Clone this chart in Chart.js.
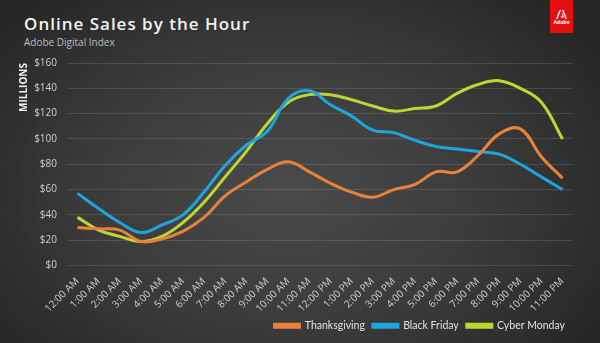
<!DOCTYPE html>
<html>
<head>
<meta charset="utf-8">
<script src="https://cdn.jsdelivr.net/npm/chart.js@4"></script>
<style>
  html, body { margin: 0; padding: 0; }
  body {
    width: 600px; height: 343px; overflow: hidden; position: relative;
    background: radial-gradient(ellipse 62% 75% at 48% 55%, #4a4a4a 0%, #3a3a3a 55%, #262626 100%);
    font-family: 'Open Sans', sans-serif;
  }
  #title {
    position: absolute; left: 24px; top: 12px;
    color: #f2f2f2; font-size: 17px; font-weight: 600; letter-spacing: 1px;
  }
  #subtitle {
    position: absolute; left: 24px; top: 35px;
    color: #bdbdbd; font-size: 10px;
  }
  #logo {
    position: absolute; left: 550px; top: 0; width: 23px; height: 33px;
    background: #e60f0f; color: #fff; text-align: center;
  }
  #logo svg { display: block; margin: 10px auto 0; }
  #logo span { display: block; font-size: 5px; font-weight: bold; line-height: 6px; }
  #wrap { position: absolute; left: 0; top: 0; width: 600px; height: 343px; }
</style>
</head>
<body>
<div id="title">Online Sales by the Hour</div>
<div id="subtitle">Adobe Digital Index</div>
<div id="logo">
  <svg width="11" height="9" viewBox="0 0 11 9">
    <polygon points="0,9 3.5,0 5,0 1.5,9" fill="#fff"/>
    <polygon points="6,0 7.5,0 11,9 9.5,9" fill="#fff"/>
    <polygon points="5.5,3.5 6.5,3.5 8,7.5 4.5,7.5 5,6.5 6.6,6.5" fill="#fff"/>
  </svg>
  <span>Adobe</span>
</div>
<div id="wrap"><canvas id="salesChart"></canvas></div>
<script>
// heures (axe x)
const hours = ['12:00 AM', '1:00 AM', '2:00 AM', '3:00 AM', '4:00 AM', '5:00 AM', '6:00 AM', '7:00 AM',
    '8:00 AM', '9:00 AM', '10:00 AM', '11:00 AM', '12:00 PM', '1:00 PM', '2:00 PM', '3:00 PM',
    '4:00 PM', '5:00 PM', '6:00 PM', '7:00 PM', '8:00 PM', '9:00 PM', '10:00 PM', '11:00 PM'];

// ventes en millions de $
const thanksgiving = [30, 29, 28, 19, 21, 27, 38, 55, 66, 76, 82, 74, 65, 58, 54, 60, 64, 74, 74, 87, 104, 108, 86, 69];
const blackFriday  = [57, 45, 34, 26, 32, 40, 58, 79, 95, 106, 132, 138, 127, 118, 107, 105, 99, 94, 92, 90, 88, 80, 70, 60];
const cyberMonday  = [38, 28, 23, 19, 23, 34, 50, 70, 90, 112, 129, 135, 135, 131, 126, 122, 124, 126, 136, 143, 146, 140, 129, 100];

const yTicks = [0, 20, 40, 60, 80, 100, 120, 140, 160];

const tickColor = '#cfcfcf';
const tickFont = { family: "'Open Sans', sans-serif", size: 10 };

function makeSeries(label, data, color) {
    return {
        label: label,
        data: data,
        borderColor: color,
        backgroundColor: color,
        borderWidth: 3,
        tension: 0.4,
        pointRadius: 0,
        fill: false
    };
}

const ctx = document.getElementById('salesChart').getContext('2d');
new Chart(ctx, {
    type: 'line',
    data: {
        labels: hours,
        datasets: [
            makeSeries('Thanksgiving', thanksgiving, '#e8823a'),
            makeSeries('Black Friday', blackFriday, '#1ea5dc'),
            makeSeries('Cyber Monday', cyberMonday, '#bdd634')
        ]
    },
    options: {
        responsive: true,
        maintainAspectRatio: false,
        animation: false,
        layout: { padding: { left: 18, right: 27, top: 63, bottom: 2 } },
        plugins: {
            legend: {
                position: 'bottom',
                align: 'end',
                labels: {
                    color: '#e0e0e0',
                    font: { family: "Lato, sans-serif", size: 10.5 },
                    boxWidth: 25,
                    boxHeight: 3,
                    padding: 8
                }
            },
            tooltip: { enabled: false }
        },
        scales: {
            x: {
                offset: true,
                grid: { display: false },
                border: { display: false },
                afterFit: function(scale) { scale.height = 47; },
                ticks: {
                    color: tickColor,
                    font: tickFont,
                    maxRotation: 45,
                    minRotation: 45,
                    autoSkip: false,
                    padding: 2
                }
            },
            y: {
                min: 0,
                max: 160,
                afterBuildTicks: function(scale) {
                    scale.ticks = yTicks.map(v => ({ value: v }));
                },
                afterFit: function(scale) { scale.width = 49; },
                grid: { color: 'rgba(255,255,255,0.12)', lineWidth: 1, drawTicks: false },
                border: { display: false },
                ticks: {
                    color: tickColor,
                    font: tickFont,
                    padding: 10,
                    callback: v => '$' + v
                },
                title: {
                    display: true,
                    text: 'MILLIONS',
                    align: 'end',
                    color: '#f0f0f0',
                    font: { family: "'Open Sans', sans-serif", size: 10, weight: 'bold' },
                    padding: { top: 0, bottom: 2 }
                }
            }
        }
    }
});
</script>
</body>
</html>
